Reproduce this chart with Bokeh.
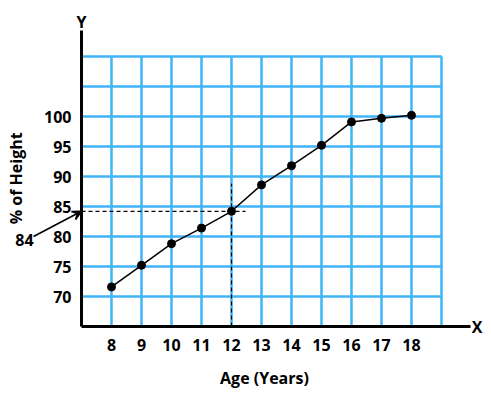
import math
from bokeh.plotting import figure
from bokeh.models import Range1d, FixedTicker, Label, Arrow, VeeHead
from bokeh.embed import file_html
from bokeh.resources import INLINE

# ---- data ----
ages = [8, 9, 10, 11, 12, 13, 14, 15, 16, 17, 18]
heights = [71.6, 75.2, 78.8, 81.4, 84.2, 88.6, 91.8, 95.2, 99.1, 99.7, 100.2]
x_ticks = [8, 9, 10, 11, 12, 13, 14, 15, 16, 17, 18]
y_ticks = [70, 75, 80, 85, 90, 95, 100]
x_grid = [8, 9, 10, 11, 12, 13, 14, 15, 16, 17, 18, 19]
y_grid = [70, 75, 80, 85, 90, 95, 100, 105, 110]
marked_age = 12
marked_label = "84"

FONT = "Open Sans"
GRID = "#3fb5f7"
W, H = 486, 390
# 30 px per year, 6 px per percent; origin (7, 65) sits at pixel (81, 326)
x0 = 7 - 81 / 30
y1 = 65 + 326 / 6
p = figure(width=W, height=H, output_backend="svg", toolbar_location=None,
           x_range=Range1d(x0, x0 + W / 30), y_range=Range1d(y1 - H / 6, y1),
           min_border=0)
p.outline_line_color = None
p.xgrid.visible = False
p.ygrid.visible = False

gx0, gx1 = 7, x_grid[-1]
gy0, gy1 = 65, y_grid[-1]
# grid
p.segment(x0=x_grid, y0=[gy0] * len(x_grid), x1=x_grid, y1=[gy1] * len(x_grid),
          line_color=GRID, line_width=2.5)
p.segment(x0=[gx0] * len(y_grid), y0=y_grid, x1=[gx1] * len(y_grid), y1=y_grid,
          line_color=GRID, line_width=2.5)

# dashed guide lines
h = heights[ages.index(marked_age)]
p.segment(x0=[gx0], y0=[h], x1=[marked_age + 0.47], y1=[h],
          line_color="black", line_width=1.2, line_dash="4 3")
p.segment(x0=[marked_age], y0=[gy0], x1=[marked_age], y1=[h + 4.6],
          line_color="black", line_width=1.2, line_dash="4 3")

# series
p.line(ages, heights, line_color="black", line_width=1.5)
p.scatter(ages, heights, size=8, color="black")

# axes, fixed at the origin
p.xaxis.fixed_location = gy0
p.yaxis.fixed_location = gx0
p.xaxis.bounds = (gx0, 7 + 389 / 30)
p.yaxis.bounds = (gy0, 65 + 296 / 6)
for ax in (p.xaxis[0], p.yaxis[0]):
    ax.axis_line_width = 3
    ax.axis_line_color = "black"
    ax.major_tick_line_color = None
    ax.minor_tick_line_color = None
    ax.major_label_text_font = FONT
    ax.major_label_text_font_style = "bold"
    ax.major_label_text_font_size = "16px"
    ax.major_label_text_color = "black"
p.xaxis.ticker = FixedTicker(ticks=x_ticks)
p.yaxis.ticker = FixedTicker(ticks=y_ticks)
p.xaxis.major_label_standoff = 6
p.yaxis.major_label_standoff = 4

def lab(x, y, t, size="16px", angle=0.0):
    p.add_layout(Label(x=x, y=y, text=t, text_font=FONT, text_font_style="bold",
                       text_font_size=size, text_color="black", angle=angle,
                       text_align="center", text_baseline="middle"))

lab(7, 115.8, "Y")
lab(20.19, 65, "X")
lab(13.1, 56.5, "Age (Years)")
lab(4.8, 89.7, "% of Height", angle=math.pi / 2)
lab(5.1, 79.5, marked_label)

p.add_layout(Arrow(x_start=5.4, y_start=80.0, x_end=7.0, y_end=h,
                   line_color="black", line_width=1.6,
                   end=VeeHead(size=9, line_color="black", line_width=1.6)))

open("out.html", "w").write(file_html(p, INLINE))
